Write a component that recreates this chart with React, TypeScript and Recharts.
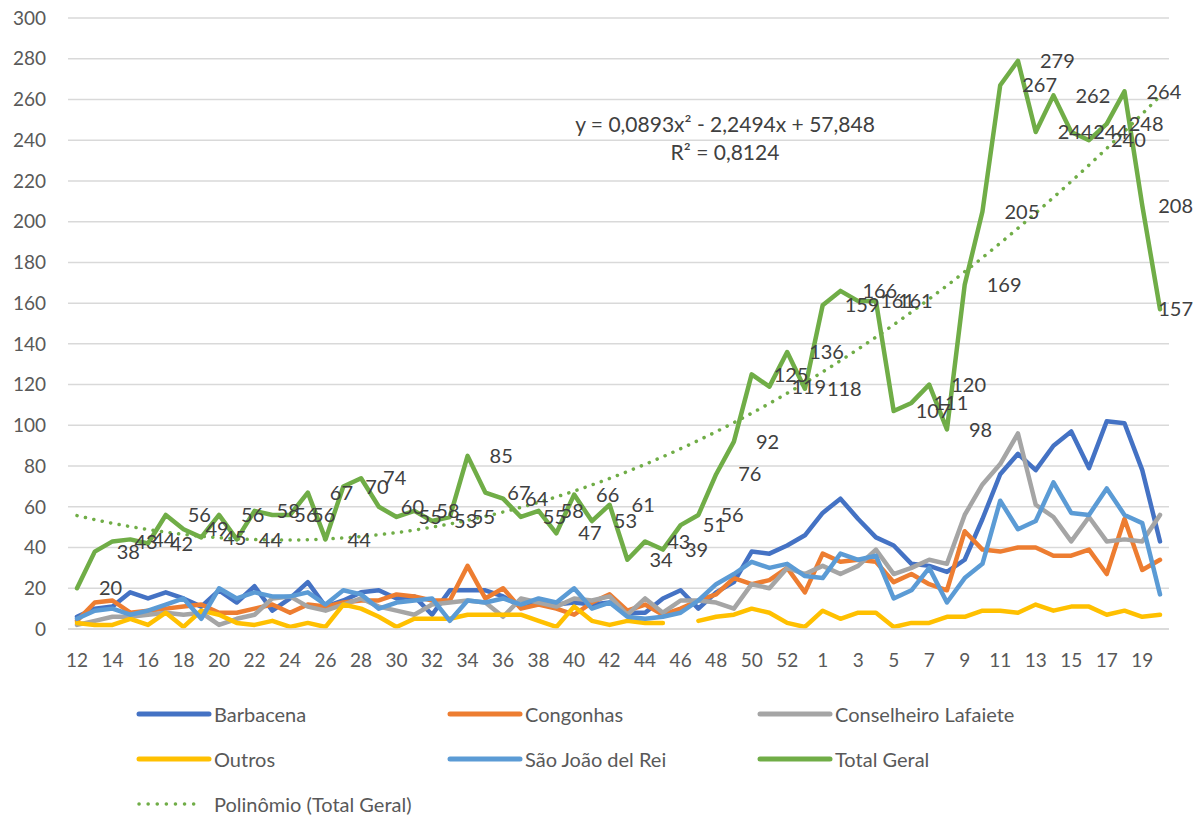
import { LineChart, Line, XAxis, YAxis, CartesianGrid, LabelList } from 'recharts'

// epidemiological weeks (2020 has week 53, then 2021)
const WEEKS = [
  12, 13, 14, 15, 16, 17, 18, 19, 20, 21, 22, 23, 24, 25, 26, 27, 28, 29, 30, 31, 32,
  33, 34, 35, 36, 37, 38, 39, 40, 41, 42, 43, 44, 45, 46, 47, 48, 49, 50, 51, 52, 53,
  1, 2, 3, 4, 5, 6, 7, 8, 9, 10, 11, 12, 13, 14, 15, 16, 17, 18, 19, 20
]

const BARBACENA = [
  6, 10, 11, 18, 15, 18, 15, 11, 19, 13, 21, 9, 15, 23, 11, 14, 18, 19, 15, 16, 7,
  19, 19, 19, 16, 11, 14, 12, 13, 12, 13, 8, 8, 15, 19, 10, 18, 23, 38, 37, 41, 46,
  57, 64, 54, 45, 41, 32, 31, 28, 34, 54, 76, 86, 78, 90, 97, 79, 102, 101, 78, 43
]
const CONGONHAS = [
  4, 13, 14, 8, 9, 10, 11, 12, 8, 8, 10, 12, 8, 12, 11, 13, 14, 14, 17, 16, 14,
  14, 31, 15, 20, 10, 12, 10, 7, 13, 17, 9, 12, 7, 10, 14, 17, 25, 22, 24, 30, 18,
  37, 33, 34, 33, 23, 27, 22, 19, 48, 39, 38, 40, 40, 36, 36, 39, 27, 54, 29, 34
]
const CONSELHEIRO = [
  2, 4, 6, 6, 7, 8, 7, 8, 2, 5, 7, 15, 16, 11, 9, 12, 15, 11, 9, 7, 12,
  13, 14, 13, 6, 15, 13, 11, 15, 14, 16, 7, 15, 8, 14, 14, 13, 10, 22, 20, 30, 27,
  31, 27, 31, 39, 27, 30, 34, 32, 56, 71, 81, 96, 61, 55, 43, 55, 43, 44, 43, 56
]
const OUTROS = [
  3, 2, 2, 5, 2, 8, 1, 9, 7, 3, 2, 4, 1, 3, 1, 12, 10, 6, 1, 5, 5,
  5, 7, 7, 7, 7, 4, 1, 11, 4, 2, 4, 3, 3, null, 4, 6, 7, 10, 8, 3, 1,
  9, 5, 8, 8, 1, 3, 3, 6, 6, 9, 9, 8, 12, 9, 11, 11, 7, 9, 6, 7
]
const SAO_JOAO = [
  5, 9, 10, 7, 9, 12, 15, 5, 20, 15, 18, 16, 16, 18, 12, 19, 17, 10, 13, 14, 15,
  4, 14, 13, 15, 12, 15, 13, 20, 10, 13, 6, 5, 6, 8, 14, 22, 27, 33, 30, 32, 26,
  25, 37, 34, 36, 15, 19, 30, 13, 25, 32, 63, 49, 53, 72, 57, 56, 69, 56, 52, 17
]
const TOTAL = [
  20, 38, 43, 44, 42, 56, 49, 45, 56, 44, 58, 56, 56, 67, 44, 70, 74, 60, 55, 58, 53,
  55, 85, 67, 64, 55, 58, 47, 66, 53, 61, 34, 43, 39, 51, 56, 76, 92, 125, 119, 136, 118,
  159, 166, 161, 161, 107, 111, 120, 98, 169, 205, 267, 279, 244, 262, 244, 240, 248, 264, 208, 157
]

// trendline coefficients as printed on the chart (x = 1..n)
const TREND_COEFFS = [0.0893, -2.2494, 57.848]

const Y_TICKS = [0, 20, 40, 60, 80, 100, 120, 140, 160, 180, 200, 220, 240, 260, 280, 300]

const SERIES = [
  { key: 'barbacena', name: 'Barbacena', color: '#4472C4' },
  { key: 'congonhas', name: 'Congonhas', color: '#ED7D31' },
  { key: 'conselheiro', name: 'Conselheiro Lafaiete', color: '#A5A5A5' },
  { key: 'outros', name: 'Outros', color: '#FFC000' },
  { key: 'saojoao', name: 'São João del Rei', color: '#5B9BD5' },
  { key: 'total', name: 'Total Geral', color: '#70AD47' }
]

const FONT = 'Lato, "Open Sans", sans-serif'

const data = WEEKS.map((w, i) => {
  const n = i + 1
  return {
    week: String(w),
    barbacena: BARBACENA[i],
    congonhas: CONGONHAS[i],
    conselheiro: CONSELHEIRO[i],
    outros: OUTROS[i],
    saojoao: SAO_JOAO[i],
    total: TOTAL[i],
    trend: TREND_COEFFS[0] * n * n + TREND_COEFFS[1] * n + TREND_COEFFS[2]
  }
})

const TotalLabel = (props: any) => {
  const px = props.x ?? props.viewBox?.x
  const py = props.y ?? props.viewBox?.y
  if (px == null || py == null) return null
  const text = String(props.value)
  const w = text.length * 11.6
  const lx = Math.min(px + 22, 1193 - w)
  return (
    <text x={lx} y={py} dy="0.36em" fill="#404040" fontSize={20} fontFamily={FONT}>
      {text}
    </text>
  )
}

const LegendItem = ({ left, top, color, label, dotted }: any) => (
  <div style={{ position: 'absolute', left, top: top - 12, height: 24, display: 'flex', alignItems: 'center' }}>
    <svg width={78} height={24} style={{ display: 'block' }}>
      {dotted ? (
        <line x1={3} y1={12} x2={66} y2={12} stroke={color} strokeWidth={3.5}
          strokeDasharray="0.1 9" strokeLinecap="round" />
      ) : (
        <line x1={3} y1={12} x2={73} y2={12} stroke={color} strokeWidth={5} strokeLinecap="round" />
      )}
    </svg>
    <span style={{ fontFamily: FONT, fontSize: 20, color: '#595959', whiteSpace: 'nowrap' }}>{label}</span>
  </div>
)

export default function App() {
  const legendRows = [
    [SERIES[0], SERIES[1], SERIES[2]],
    [SERIES[3], SERIES[4], SERIES[5]]
  ]
  const colLeft = [136, 447, 757]
  const rowTop = [714, 759]

  return (
    <div style={{ position: 'absolute', left: 0, top: 0, width: 1200, height: 816, background: '#fff' }}>
      <LineChart
        width={1200}
        height={816}
        data={data}
        margin={{ top: 18, right: 31, left: 0, bottom: 147 }}
      >
        <CartesianGrid vertical={false} stroke="#D9D9D9" strokeWidth={1.5} />
        <XAxis
          dataKey="week"
          interval={1}
          height={40}
          padding={{ left: 9, right: 9 }}
          tickSize={0}
          tickMargin={25}
          axisLine={{ stroke: '#D9D9D9', strokeWidth: 1.5 }}
          tickLine={false}
          tick={{ fill: '#595959', fontSize: 19, fontFamily: FONT }}
        />
        <YAxis
          domain={[0, 300]}
          ticks={Y_TICKS}
          width={68}
          tickSize={0}
          tickMargin={22}
          axisLine={false}
          tickLine={false}
          tick={{ fill: '#595959', fontSize: 19, fontFamily: FONT }}
        />
        {SERIES.map(s => (
          <Line
            key={s.key}
            type="linear"
            dataKey={s.key}
            name={s.name}
            stroke={s.color}
            strokeWidth={4.5}
            strokeLinejoin="round"
            strokeLinecap="round"
            dot={false}
            activeDot={false}
            isAnimationActive={false}
          >
            {s.key === 'total' && <LabelList dataKey="total" content={TotalLabel} />}
          </Line>
        ))}
        <Line
          type="monotone"
          dataKey="trend"
          name="Polinômio (Total Geral)"
          stroke="#70AD47"
          strokeWidth={3.5}
          strokeDasharray="0.1 8.5"
          strokeLinecap="round"
          dot={false}
          activeDot={false}
          isAnimationActive={false}
        />
      </LineChart>

      <div style={{ position: 'absolute', left: 475, width: 500, top: 110, textAlign: 'center',
        fontFamily: FONT, fontSize: 21, lineHeight: '28px', color: '#404040' }}>
        <div>y = 0,0893x² - 2,2494x + 57,848</div>
        <div>R² = 0,8124</div>
      </div>

      {legendRows.map((row, r) =>
        row.map((s, c) => (
          <LegendItem key={s.key} left={colLeft[c]} top={rowTop[r]} color={s.color} label={s.name} />
        ))
      )}
      <LegendItem left={136} top={804} color="#70AD47" label="Polinômio (Total Geral)" dotted />
    </div>
  )
}
